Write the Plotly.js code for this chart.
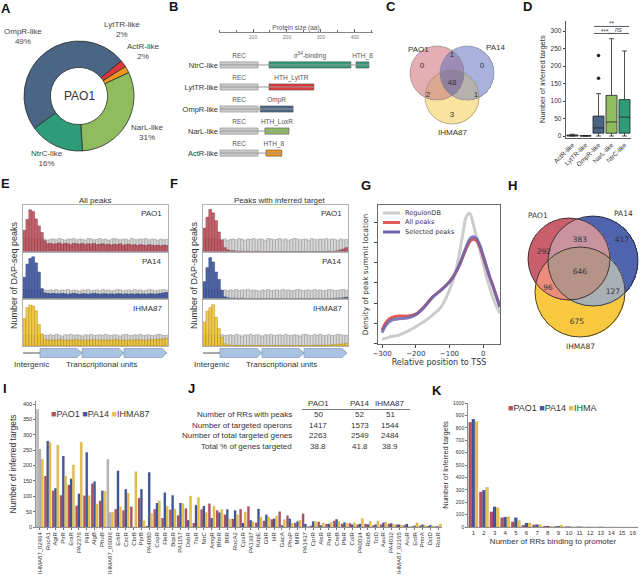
<!DOCTYPE html>
<html><head><meta charset="utf-8">
<script src="https://cdn.plot.ly/plotly-3.0.1.min.js"></script>
<style>html,body{margin:0;padding:0;background:#fff}#chart{width:642px;height:580px}</style>
</head><body><div id="chart"></div>
<script>
// ================= DATA =================
// A: RR families in PAO1
const pieLabels = ['OmpR-like','LytTR-like','ActR-like','NarL-like','NtrC-like'];
const pieValues = [49, 2, 2, 31, 16];

// B: domain architecture (aa)
const famRows  = ['ActR-like','NarL-like','OmpR-like','LytTR-like','NtrC-like'];
const protLen  = [185, 206, 218, 279, 441];
const recStart = [3, 3, 3, 3, 3];
const recEnd   = [115, 115, 115, 115, 115];
const dbdName  = ['HTH_8','HTH_LuxR','OmpR','HTH_LytTR','σ<sup>54</sup>-binding'];
const dbdStart = [138, 135, 121, 147, 147];
const dbdEnd   = [185, 206, 218, 279, 388];
const extraRow = ['NtrC-like'];
const extraName = ['HTH_8'];
const extraStart = [403];
const extraEnd = [441];
const sizeTicks = [100, 200, 300, 400];

// C: Venn of RRs with peaks (regions: PAO1 only, PA14 only, PAO1&PA14, IHMA87 only, PAO1&IHMA87, PA14&IHMA87, all)
const vennSets = ['PAO1','PA14','IHMA87'];
const vennCCounts = [0, 0, 1, 3, 2, 1, 48];

// D: inferred targets per family (box stats)
const boxCats = ['ActR-like','LytTR-like','OmpR-like','NarL-like','NtrC-like'];
const boxLow  = [0, 0, 0, 0, 0];
const boxQ1   = [0, 0, 8, 8, 8];
const boxMed  = [1, 0, 23, 40, 54];
const boxQ3   = [3, 1, 57, 116, 104];
const boxHigh = [5, 1, 121, 278, 243];
const outCats = ['OmpR-like','OmpR-like'];
const outVals = [165, 230];

// E/F: DAP-seq peak position histograms (relative heights)
const grayPAO1 = [0.31,0.30,0.32,0.29,0.31,0.30,0.29,0.30,0.27,0.29,
                  0.30,0.28,0.31,0.29,0.27,0.30,0.29,0.31,0.28,0.30,
                  0.29,0.27,0.31,0.30,0.28,0.29,0.31,0.28,0.30,0.27,
                  0.29,0.31,0.30,0.28,0.29,0.30,0.27,0.31,0.29,0.28,
                  0.30,0.29,0.31,0.28,0.30,0.29,0.27,0.30,0.28,0.29];
const ePAO1 = [0.50,0.75,0.97,0.93,0.76,0.60,0.45,0.26,0.19,0.20,
               0.18,0.19,0.21,0.18,0.20,0.19,0.17,0.20,0.19,0.18,
               0.20,0.17,0.19,0.18,0.20,0.17,0.18,0.19,0.17,0.18,
               0.16,0.18,0.17,0.19,0.16,0.17,0.18,0.16,0.17,0.15,
               0.17,0.16,0.15,0.17,0.16,0.15,0.16,0.14,0.16,0.15];
const fPAO1 = [0.55,0.80,0.98,0.90,0.72,0.46,0.27,0.10,0.05,0.03,
               0.03,0.02,0.02,0.02,0.01,0.02,0.01,0.01,0.02,0.01,
               0.01,0.01,0.01,0.01,0.01,0.01,0.01,0.01,0.01,0.01,
               0.01,0.01,0.01,0.01,0.01,0.01,0.01,0.01,0.01,0.01,
               0.01,0.01,0.01,0.02,0.01,0.02,0.03,0.05,0.07,0.10];
const grayPA14 = [0.22,0.21,0.23,0.22,0.21,0.22,0.20,0.21,0.19,0.21,
                  0.20,0.22,0.19,0.21,0.20,0.22,0.19,0.21,0.20,0.18,
                  0.21,0.20,0.22,0.19,0.20,0.21,0.19,0.22,0.20,0.21,
                  0.19,0.20,0.22,0.21,0.19,0.20,0.21,0.19,0.22,0.20,
                  0.21,0.19,0.20,0.22,0.21,0.19,0.20,0.21,0.22,0.20];
const ePA14 = [0.50,0.80,0.93,0.97,0.83,0.62,0.24,0.14,0.13,0.12,
               0.13,0.12,0.12,0.13,0.12,0.11,0.12,0.13,0.12,0.11,
               0.12,0.12,0.11,0.12,0.13,0.12,0.11,0.12,0.12,0.11,
               0.12,0.11,0.12,0.12,0.11,0.12,0.11,0.12,0.11,0.12,
               0.11,0.12,0.11,0.12,0.12,0.11,0.12,0.13,0.14,0.15];
const fPA14 = [0.40,0.72,0.95,0.85,0.62,0.45,0.20,0.05,0.03,0.02,
               0.02,0.02,0.01,0.02,0.01,0.01,0.01,0.01,0.01,0.01,
               0.01,0.01,0.01,0.01,0.01,0.01,0.01,0.01,0.01,0.01,
               0.01,0.01,0.01,0.01,0.01,0.01,0.01,0.01,0.01,0.01,
               0.01,0.01,0.01,0.01,0.01,0.02,0.02,0.02,0.03,0.04];
const grayIHMA = [0.26,0.25,0.27,0.24,0.26,0.25,0.26,0.24,0.25,0.26,
                  0.24,0.27,0.25,0.23,0.26,0.25,0.27,0.24,0.26,0.25,
                  0.23,0.26,0.25,0.27,0.24,0.25,0.26,0.24,0.27,0.25,
                  0.24,0.26,0.25,0.23,0.26,0.27,0.25,0.24,0.26,0.25,
                  0.27,0.24,0.25,0.26,0.24,0.25,0.27,0.26,0.24,0.25];
const eIHMA = [0.63,0.88,0.94,0.92,0.81,0.49,0.28,0.16,0.14,0.13,
               0.14,0.13,0.15,0.14,0.13,0.14,0.13,0.14,0.15,0.13,
               0.14,0.13,0.14,0.13,0.15,0.14,0.13,0.14,0.13,0.14,
               0.13,0.14,0.15,0.13,0.14,0.13,0.14,0.13,0.14,0.15,
               0.13,0.14,0.13,0.15,0.14,0.15,0.16,0.15,0.17,0.18];
const fIHMA = [0.55,0.80,0.88,0.95,0.66,0.40,0.20,0.05,0.02,0.02,
               0.01,0.01,0.01,0.01,0.01,0.01,0.01,0.01,0.01,0.01,
               0.01,0.01,0.01,0.01,0.01,0.01,0.01,0.01,0.01,0.01,
               0.01,0.01,0.01,0.01,0.01,0.01,0.01,0.01,0.02,0.01,
               0.02,0.02,0.02,0.02,0.03,0.03,0.04,0.04,0.05,0.06];

// G: density of peak summit location vs TSS
const gX        = [-300,-290,-280,-270,-250,-225,-200,-175,-150,-125,-100,-90,-80,-70,-60,-50,-40,-30,-20,-10,0,10,20,30,40,50];
const gRegulon  = [0.20,0.25,0.30,0.35,0.41,0.60,0.83,1.08,1.40,1.80,2.64,3.10,3.70,4.50,5.45,6.28,6.45,5.95,5.29,4.63,3.97,3.30,2.73,2.23,1.82,1.49];
const gAll      = [0.66,0.99,1.19,1.29,1.36,1.36,1.45,1.82,2.31,2.64,3.06,3.27,3.55,3.88,4.30,4.71,5.04,5.16,5.09,4.79,4.30,3.77,3.27,2.81,2.31,1.82];
const gSelected = [0.53,0.86,1.06,1.16,1.22,1.26,1.42,1.79,2.28,2.64,3.04,3.27,3.57,3.93,4.36,4.79,5.17,5.29,5.21,4.88,4.36,3.80,3.27,2.78,2.28,1.79];
const gNames = ['RegulonDB','All peaks','Selected peaks'];

// H: Venn of targeted genes (same region order as C)
const vennHCounts = [292, 417, 383, 675, 96, 127, 646];

// I: inferred targets per RR
const iCats = ['IHMA87_02464','RocA1','AgtR','PirR','EraR','PA2376','PilR','AlgB','PhoB','IHMA87_06096',
  'ErbR','CzcR','CbrB','PprB','PA4080','CopR','FleR','BqsR','PA1157','DsbR',
  'TtsR','NtrC','AmgR','BfmR','BfiR','RocA2','CpxR','PA1397','KdpE','GltR',
  'IrlR','GacA','PhoP','MifR','PA1437','CprR','AlsR','ParR','CreB','PfeR',
  'ColR','PA0034','RcsB','TctD','AauR','PA4032','IHMA87_02165','AruR','ErdR','PmrA','DctD','RoxR'];
const iPAO1 = [383,166,118,103,137,69,102,141,85,220, 58,54,66,94,3,58,29,56,38,60,
  13,57,76,54,40,26,58,67,14,20, 25,50,37,13,43,4,17,10,20,10, 12,8,10,5,8,10,8,6,2,4,3,2];
const iPA14 = [253,280,126,231,157,108,243,148,118,47, 183,123,0,123,178,78,112,103,78,22,
  71,68,29,47,57,54,13,22,59,40, 27,5,27,18,10,18,5,10,25,15, 8,10,8,8,14,12,8,10,4,8,6,2];
const iIHMA = [220,275,266,166,202,276,102,75,116,49, 66,110,180,21,44,85,67,58,76,101,
  96,47,67,57,26,40,49,17,32,33, 35,24,13,22,2,18,13,15,18,12, 14,28,18,20,16,8,6,2,14,6,4,10];
const iNoOrtholog = ['IHMA87_02464','IHMA87_06096'];
const strains = ['PAO1','PA14','IHMA87'];

// J: summary table
const jRows = ['Number of RRs with peaks','Number of targeted operons','Number of total targeted genes','Total % of genes targeted'];
const jPAO1 = ['50','1417','2263','38.8'];
const jPA14 = ['52','1573','2549','41.8'];
const jIHMA = ['51','1544','2484','38.9'];

// K: number of RRs binding to promoter
const kCats = [1,2,3,4,5,6,7,8,9,10,11,12,13,14,15,16];
const kPAO1 = [845,283,123,75,42,15,18,7,5,3,2,1,1,0,0,0];
const kPA14 = [870,297,163,80,75,32,20,8,7,4,3,1,2,0,0,0];
const kIHMA = [850,320,155,83,52,33,18,7,14,3,2,1,1,1,0,1];
const kNames = ['PAO1','PA14','IHMA'];

// ================= HELPERS / STYLE =================
const W = 642, H = 580;
const PX = v => v / W;
const PY = v => 1 - v / H;
const dx = (a, b) => [PX(a), PX(b)];
const dy = (top, bottom) => [PY(bottom), PY(top)];
const FONT = 'Liberation Sans, Arial, sans-serif';
const DV = 'DejaVu Sans, sans-serif';
const traces = [], annotations = [], shapes = [];
function ann(text, x, y, size, extra) {
  annotations.push(Object.assign({text, x: PX(x), y: PY(y), xref: 'paper', yref: 'paper', showarrow: false,
    xanchor: 'center', yanchor: 'middle', font: {family: FONT, size: size || 8, color: '#333'}}, extra || {}));
}
const famColor = {'NtrC-like':'#2e9c78','LytTR-like':'#e2363c','OmpR-like':'#4b6585','NarL-like':'#8fbd5d','ActR-like':'#f0951f'};
const strainColor = {PAO1:'#b5515f', PA14:'#3f579c', IHMA87:'#e9c349', IHMA:'#e9c349'};
const histColor = {PAO1:'#c0505c', PA14:'#3d55a3', IHMA87:'#f2c52f'};

// ================= A: donut =================
const pieCols = pieLabels.map(l => famColor[l]);
traces.push({type:'pie', labels: pieLabels, values: pieValues, sort: false, direction: 'clockwise', rotation: 234,
  hole: 0.52, marker: {colors: pieCols, line: {color: '#2b2b2b', width: 0.8}}, textinfo: 'none',
  domain: {x: dx(24, 134), y: dy(41, 151)}, showlegend: false, hoverinfo: 'skip'});
const pieLabPos = [[23,37],[122,30],[143,52],[147,133],[47,159]];
pieLabels.forEach((l, i) => ann(l + '<br>' + pieValues[i] + '%', pieLabPos[i][0], pieLabPos[i][1], 8, {font:{family:FONT,size:8,color:'#444'}}));
ann('PAO1', 79, 96, 12, {font:{family:FONT,size:12,color:'#333'}});

// ================= B: domain architecture =================
const bIdx = famRows.map((_, i) => i);
const connX = [], connY = [];
famRows.forEach((f, i) => { connX.push(recStart[i], protLen[i], null); connY.push(i, i, null); });
traces.push({type:'scatter', mode:'lines', x: connX, y: connY, xaxis:'x', yaxis:'y', line:{color:'#9a9a9a', width:1}, hoverinfo:'skip', showlegend:false});
traces.push({type:'bar', orientation:'h', y: bIdx, x: recEnd.map((e,i)=>e-recStart[i]), base: recStart, width:0.28, offset:-0.14,
  xaxis:'x', yaxis:'y', marker:{color:'#cacaca', line:{color:'#8d8d8d', width:0.6}}, hoverinfo:'skip', showlegend:false});
traces.push({type:'bar', orientation:'h', y: bIdx, x: dbdEnd.map((e,i)=>e-dbdStart[i]), base: dbdStart, width:0.28, offset:-0.14,
  xaxis:'x', yaxis:'y', marker:{color: famRows.map(f=>famColor[f]), line:{color:'#555', width:0.6}}, hoverinfo:'skip', showlegend:false});
traces.push({type:'bar', orientation:'h', y: extraRow.map(r=>famRows.indexOf(r)), x: extraEnd.map((e,i)=>e-extraStart[i]), base: extraStart, width:0.28, offset:-0.14,
  xaxis:'x', yaxis:'y', marker:{color: extraRow.map(f=>famColor[f]), line:{color:'#555', width:0.6}}, hoverinfo:'skip', showlegend:false});
const labX = [], labY = [], labT = [];
famRows.forEach((f, i) => {
  labX.push((recStart[i]+recEnd[i])/2, (dbdStart[i]+dbdEnd[i])/2); labY.push(i+0.4, i+0.4); labT.push('REC', dbdName[i]);
});
extraRow.forEach((r, k) => { labX.push((extraStart[k]+extraEnd[k])/2); labY.push(famRows.indexOf(r)+0.4); labT.push(extraName[k]); });
traces.push({type:'scatter', mode:'text', x: labX, y: labY, text: labT, textfont:{family:FONT, size:6.5, color:'#555'},
  xaxis:'x', yaxis:'y', hoverinfo:'skip', showlegend:false, cliponaxis:false});

// ================= Venn helper (C, H) =================
function vennHeat(circles, xr, yr, step, colors, xa, ya) {
  const xs = [], ys = [], z = [];
  for (let x = xr[0]; x <= xr[1]; x += step) xs.push(x);
  for (let y = yr[0]; y <= yr[1]; y += step) ys.push(y);
  ys.forEach(y => {
    const row = [];
    xs.forEach(x => {
      let b = 0;
      circles.forEach((c, k) => { if ((x-c.cx)*(x-c.cx) + (y-c.cy)*(y-c.cy) <= c.r*c.r) b |= (1 << k); });
      row.push(b ? b : null);
    });
    z.push(row);
  });
  const cs = [];
  for (let k = 1; k <= 7; k++) { cs.push([(k-1)/7, colors[k-1]]); cs.push([k/7, colors[k-1]]); }
  traces.push({type:'heatmap', x: xs, y: ys, z, zmin:0.5, zmax:7.5, colorscale: cs, showscale:false,
    xaxis: xa, yaxis: ya, hoverinfo:'skip', zsmooth:false});
  circles.forEach(c => shapes.push({type:'circle', xref: xa, yref: ya, x0:c.cx-c.r, x1:c.cx+c.r, y0:c.cy-c.r, y1:c.cy+c.r,
    line:{color: c.edge, width: c.ew}, fillcolor:'rgba(0,0,0,0)'}));
}

// C
const cCircles = [{cx:437, cy:73, r:27, edge:'#888', ew:0.6},{cx:467, cy:73, r:27, edge:'#888', ew:0.6},{cx:452, cy:97, r:27, edge:'#888', ew:0.6}];
vennHeat(cCircles, [405, 500], [42, 130], 0.5,
  ['#e4aeb2','#a9b2dd','#9d8cb8','#fae39e','#dca68f','#b5b2ad','#8f819f'], 'x2', 'y2');
const cPos = [[422,66],[482,66],[452,55],[452,115],[428,95],[476,95],[452,83]];
traces.push({type:'scatter', mode:'text', x: cPos.map(p=>p[0]), y: cPos.map(p=>p[1]), text: vennCCounts.map(String),
  textfont:{family:FONT, size:8, color:'#333'}, xaxis:'x2', yaxis:'y2', hoverinfo:'skip', showlegend:false});
const cLab = [[418,49],[496,48],[452,133]];
vennSets.forEach((s, i) => ann(s, cLab[i][0], cLab[i][1], 8, {font:{family:FONT,size:8,color:'#333'}}));

// H
const hCircles = [{cx:569, cy:259, r:41, edge:'#222', ew:0.8},{cx:593, cy:261, r:45, edge:'#222', ew:0.8},{cx:580, cy:292, r:45, edge:'#222', ew:0.8}];
vennHeat(hCircles, [522, 640], [212, 340], 0.5,
  ['#c95f6b','#4f63ae','#c8939f','#f8c940','#ec8d7c','#a9b0b3','#b59386'], 'x11', 'y11');
const hPos = [[544,252],[622,240],[580,240],[577,322],[548,288],[613,292],[580,272]];
traces.push({type:'scatter', mode:'text', x: hPos.map(p=>p[0]), y: hPos.map(p=>p[1]), text: vennHCounts.map(String),
  textfont:{family:DV, size:7.5, color:'#333'}, xaxis:'x11', yaxis:'y11', hoverinfo:'skip', showlegend:false});
const hLab = [[538,215],[623,213],[580,346]];
vennSets.forEach((s, i) => ann(s, hLab[i][0], hLab[i][1], 8, {font:{family:DV,size:7.5,color:'#333'}}));

// ================= D: boxes =================
const boxFill = {'ActR-like':'#f0951f','LytTR-like':'#e2363c','OmpR-like':'#4b6585','NarL-like':'#8fbd5d','NtrC-like':'#2e9c78'};
boxCats.forEach((c, i) => traces.push({type:'box', x:[c], q1:[boxQ1[i]], median:[boxMed[i]], q3:[boxQ3[i]],
  lowerfence:[boxLow[i]], upperfence:[boxHigh[i]], width:0.85, whiskerwidth:0.45, fillcolor: boxFill[c],
  line:{color:'#222', width:0.8}, xaxis:'x3', yaxis:'y3', boxpoints:false, hoverinfo:'skip', showlegend:false}));
traces.push({type:'scatter', mode:'markers', x: outCats, y: outVals, marker:{size:3.5, color:'#222'}, xaxis:'x3', yaxis:'y3', hoverinfo:'skip', showlegend:false});
[[2,3,293,'***'],[3,4,293,'ns'],[2,4,313,'**']].forEach(b => {
  shapes.push({type:'line', xref:'x3', yref:'y3', x0:b[0]-0.35+(b[3]==='ns'?0.1:0), x1:b[1]+0.35-(b[3]==='***'?0.1:0), y0:b[2], y1:b[2], line:{color:'#555', width:1}});
});
ann('***', 605, 31, 6.5, {font:{family:FONT,size:6.5,color:'#444'}});
ann('<i>ns</i>', 619, 30, 6.5, {font:{family:FONT,size:6.5,color:'#444'}});
ann('**', 612, 23, 6.5, {font:{family:FONT,size:6.5,color:'#444'}});

// ================= E / F: histograms =================
const bins = grayPAO1.map((_, i) => i);
const histSets = [
  {name:'PAO1', gray: grayPAO1, e: ePAO1, f: fPAO1},
  {name:'PA14', gray: grayPA14, e: ePA14, f: fPA14},
  {name:'IHMA87', gray: grayIHMA, e: eIHMA, f: fIHMA}
];
const rowsY = [[205,252],[252,299],[299,346]];
const darker = {PAO1:'#7d2f39', PA14:'#233468', IHMA87:'#a8841a'};
histSets.forEach((s, r) => {
  [['e', 4 + r, 23, 168], ['f', 7 + r, 203, 348]].forEach(([key, n, x0, x1]) => {
    traces.push({type:'bar', x: bins, y: s.gray, width: 1, offset: -0.5, xaxis:'x'+n, yaxis:'y'+n,
      marker:{color:'#d8d8d8', line:{color:'#8e8e8e', width:0.5}}, hoverinfo:'skip', showlegend:false});
    traces.push({type:'bar', x: bins, y: s[key], width: 1, offset: -0.5, xaxis:'x'+n, yaxis:'y'+n, opacity:0.9,
      marker:{color: histColor[s.name], line:{color: darker[s.name], width:0.5}}, hoverinfo:'skip', showlegend:false});
    ann(s.name, x1 - 4, rowsY[r][0] + 9, 8, {xanchor:'right', font:{family:FONT,size:8,color:'#333'}});
  });
});
ann('All peaks', 95, 200, 8, {font:{family:FONT,size:8,color:'#333'}});
ann('Peaks with inferred target', 279, 200, 8, {font:{family:FONT,size:8,color:'#333'}});
ann('Number of DAP-seq peaks', 14, 275, 9, {textangle:-90, font:{family:FONT,size:9,color:'#333'}});
ann('Number of DAP-seq peaks', 194, 275, 9, {textangle:-90, font:{family:FONT,size:9,color:'#333'}});
[0, 180].forEach(off => {
  shapes.push({type:'line', xref:'paper', yref:'paper', x0:PX(23+off), x1:PX(40+off), y0:PY(353), y1:PY(353), line:{color:'#555', width:1}});
  [[40,82],[82,124],[124,167]].forEach(([a,b]) => {
    const p = [[a+off,348.5],[b-5+off,348.5],[b+off,353],[b-5+off,357.5],[a+off,357.5]];
    shapes.push({type:'path', xref:'paper', yref:'paper',
      path: 'M' + p.map(q => PX(q[0]).toFixed(5) + ',' + PY(q[1]).toFixed(5)).join(' L') + ' Z',
      fillcolor:'#aac3e3', line:{color:'#7f95b6', width:0.7}});
  });
  ann('Intergenic', 31 + off, 364, 8, {font:{family:FONT,size:8,color:'#333'}});
  ann('Transcriptional units', 101 + off, 364, 8, {font:{family:FONT,size:8,color:'#333'}});
});

// ================= G: density lines =================
const gColors = ['#cccccc','#e05a55','#6a66b0'];
[gRegulon, gAll, gSelected].forEach((ys, i) => traces.push({type:'scatter', mode:'lines', x: gX, y: ys,
  line:{color: gColors[i], width: 3, shape:'spline', smoothing:1}, opacity: i===2?0.85:1,
  xaxis:'x10', yaxis:'y10', hoverinfo:'skip', showlegend:false}));
gNames.forEach((n, i) => {
  const yy = 213 + i*9.5;
  shapes.push({type:'line', xref:'paper', yref:'paper', x0:PX(383), x1:PX(400), y0:PY(yy), y1:PY(yy), line:{color:gColors[i], width:3}});
  ann(n, 403, yy, 6.5, {xanchor:'left', font:{family:DV,size:6.5,color:'#333'}});
});

// ================= I: grouped bars =================
const iSeries = [iPAO1, iPA14, iIHMA];
iSeries.forEach((vals, k) => {
  const s = strains[k];
  const cols = iCats.map(c => (k < 2 && iNoOrtholog.includes(c)) ? '#b9b9b9' : strainColor[s]);
  traces.push({type:'bar', x: iCats, y: vals, name: s, marker:{color: cols, line:{color:'rgba(60,60,60,0.35)', width:0.3}},
    xaxis:'x12', yaxis:'y12', hoverinfo:'skip', showlegend:false});
});
const legI = strains.map(s => `<span style="color:${strainColor[s]}">■</span>${s}`).join(' ');
ann(legI, 49, 414, 9, {xanchor:'left', font:{family:FONT,size:9,color:'#333'}});

// ================= J: table =================
ann('PAO1', 318, 404, 8, {font:{family:FONT,size:8,color:'#333'}});
ann('PA14', 360, 404, 8, {font:{family:FONT,size:8,color:'#333'}});
ann('IHMA87', 389, 404, 8, {font:{family:FONT,size:8,color:'#333'}});
shapes.push({type:'line', xref:'paper', yref:'paper', x0:PX(302), x1:PX(410), y0:PY(409.5), y1:PY(409.5), line:{color:'#555', width:0.8}});
jRows.forEach((r, i) => {
  const yy = 414.5 + i * 10.6;
  ann(r, 294, yy, 8, {xanchor:'right', font:{family:FONT,size:8,color:'#333'}});
  ann(jPAO1[i], 318, yy, 8, {font:{family:FONT,size:8,color:'#333'}});
  ann(jPA14[i], 360, yy, 8, {font:{family:FONT,size:8,color:'#333'}});
  ann(jIHMA[i], 390, yy, 8, {font:{family:FONT,size:8,color:'#333'}});
});

// ================= K: grouped bars =================
[kPAO1, kPA14, kIHMA].forEach((vals, k) => traces.push({type:'bar', x: kCats, y: vals, name: kNames[k],
  marker:{color: strainColor[kNames[k]], line:{color:'rgba(60,60,60,0.35)', width:0.3}}, xaxis:'x13', yaxis:'y13', hoverinfo:'skip', showlegend:false}));
const legK = kNames.map(s => `<span style="color:${strainColor[s]}">■</span>${s}`).join(' ');
ann(legK, 506, 408, 9, {xanchor:'left', font:{family:FONT,size:9,color:'#333'}});

// ================= panel letters =================
[['A',6,8],['B',174,7],['C',391,7],['D',527,7],['E',5,184],['F',174,184],['G',366,185],['H',512,185],['I',5,388],['J',192,388],['K',437,390]]
  .forEach(([t,x,y]) => ann('<b>'+t+'</b>', x, y, 13, {font:{family:FONT,size:13,color:'#111'}}));

// ================= LAYOUT =================
const hidden = (d, r) => ({domain: d, range: r, visible: false, fixedrange: true});
const frameAx = (d, r, anchor) => ({domain: d, range: r, anchor, showline: true, mirror: true, linecolor: '#a0a0a0', linewidth: 0.8,
  ticks: '', showticklabels: false, showgrid: false, zeroline: false, fixedrange: true});
const layout = {
  width: W, height: H, margin: {l:0, r:0, t:0, b:0}, paper_bgcolor: '#fff', plot_bgcolor: 'rgba(0,0,0,0)',
  font: {family: FONT, color: '#333'}, barmode: 'group', bargap: 0.12, bargroupgap: 0, showlegend: false,
  // B
  xaxis: {domain: dx(219, 373), range: [0, 453], anchor: 'y', side: 'top', showline: true, linecolor: '#666', linewidth: 0.8,
    tickvals: sizeTicks, ticks: 'outside', ticklen: 3, tickcolor: '#666',
    ticklabelposition: 'inside', tickfont: {size: 5, color: '#777'}, minor: {dtick: 50, tick0: 0, ticks: 'outside', ticklen: 2, tickcolor: '#666'},
    showgrid: false, zeroline: false, title: {text: 'Protein size (aa)', font: {size: 6.5, color: '#555'}, standoff: 2}},
  yaxis: {domain: dy(33, 163), range: [-0.45, 5.45], anchor: 'x', tickvals: [0,1,2,3,4], ticktext: famRows,
    tickfont: {size: 7.5, color: '#333'}, showline: false, ticks: '', showgrid: false, zeroline: false},
  // C
  xaxis2: hidden(dx(405, 500), [405, 500]), yaxis2: Object.assign(hidden(dy(42, 130), [130, 42]), {anchor:'x2'}),
  // D
  xaxis3: {domain: dx(566, 631), anchor: 'y3', type: 'category', categoryarray: boxCats, range: [-0.5, 4.5], tickangle: -45,
    tickfont: {size: 6.5, color: '#333'}, showline: true, linecolor: '#333', linewidth: 0.8, ticks: '', showgrid: false},
  yaxis3: {domain: dy(20.5, 137.75), anchor: 'x3', range: [-5, 330], tickvals: [0,50,100,150,200,250,300], tickfont: {size: 6.5, color: '#333'},
    showline: true, linecolor: '#333', linewidth: 0.8, ticks: 'outside', ticklen: 2.5, showgrid: false, zeroline: false,
    title: {text: 'Number of inferred targets', font: {size: 7.5, color: '#333'}, standoff: 3}},
  // G
  xaxis10: {domain: dx(378, 500), anchor: 'y10', range: [-312, 50], tickvals: [-300,-200,-100,0], ticktext: ['−300','−200','−100','0'],
    tickfont: {family: DV, size: 7, color: '#333'}, ticks: 'outside', ticklen: 3, showline: true, mirror: true, linecolor: '#444', linewidth: 0.8,
    showgrid: false, zeroline: false, title: {text: 'Relative position to TSS', font: {family: DV, size: 8, color: '#333'}, standoff: 2}},
  yaxis10: {domain: dy(205, 344), anchor: 'x10', range: [-0.03, 6.86], tickvals: [0,1,2,3,4,5,6], showticklabels: false, ticks: 'outside', ticklen: 3,
    showline: true, mirror: true, linecolor: '#444', linewidth: 0.8, showgrid: false, zeroline: false,
    title: {text: 'Density of peak summit location', font: {family: DV, size: 7.5, color: '#333'}, standoff: 4}},
  // H
  xaxis11: hidden(dx(522, 640), [522, 640]), yaxis11: Object.assign(hidden(dy(212, 340), [340, 212]), {anchor:'x11'}),
  // I
  xaxis12: {domain: dx(36, 442), anchor: 'y12', type: 'category', categoryarray: iCats, range: [-0.5, iCats.length - 0.5], tickangle: -90,
    tickfont: {size: 6, color: '#333'}, showline: true, linecolor: '#777', linewidth: 0.8, ticks: 'outside', ticklen: 2, tickcolor: '#777', showgrid: false},
  yaxis12: {domain: dy(401, 527), anchor: 'x12', range: [0, 410], dtick: 50, tickfont: {size: 5.5, color: '#333'}, showline: true, linecolor: '#777',
    linewidth: 0.8, ticks: 'outside', ticklen: 2, tickcolor: '#777', showgrid: false, zeroline: false,
    title: {text: 'Number of inferred targets', font: {size: 8.5, color: '#333'}, standoff: 4}},
  // K
  xaxis13: {domain: dx(468, 638), anchor: 'y13', range: [0.5, 16.5], tickvals: kCats, tickfont: {size: 6, color: '#333'}, showline: true,
    linecolor: '#777', linewidth: 0.8, ticks: '', showgrid: false, zeroline: false,
    title: {text: 'Number of RRs binding to promoter', font: {size: 8, color: '#333'}, standoff: 3}},
  yaxis13: {domain: dy(403, 527), anchor: 'x13', range: [0, 1000], dtick: 100, tickfont: {size: 5, color: '#333'}, showline: true, linecolor: '#777',
    linewidth: 0.8, ticks: 'outside', ticklen: 2, tickcolor: '#777', showgrid: false, zeroline: false,
    title: {text: 'Number of inferred targets', font: {size: 7.5, color: '#333'}, standoff: 3}},
  annotations, shapes
};
// E / F frames
for (let r = 0; r < 3; r++) {
  layout['xaxis' + (4 + r)] = frameAx(dx(23, 168), [-0.5, 49.5], 'y' + (4 + r));
  layout['yaxis' + (4 + r)] = frameAx(dy(rowsY[r][0], rowsY[r][1]), [0, 1.08], 'x' + (4 + r));
  layout['xaxis' + (7 + r)] = frameAx(dx(203, 348), [-0.5, 49.5], 'y' + (7 + r));
  layout['yaxis' + (7 + r)] = frameAx(dy(rowsY[r][0], rowsY[r][1]), [0, 1.08], 'x' + (7 + r));
}
Plotly.newPlot('chart', traces, layout, {displayModeBar: false, staticPlot: true});
</script>
</body></html>
